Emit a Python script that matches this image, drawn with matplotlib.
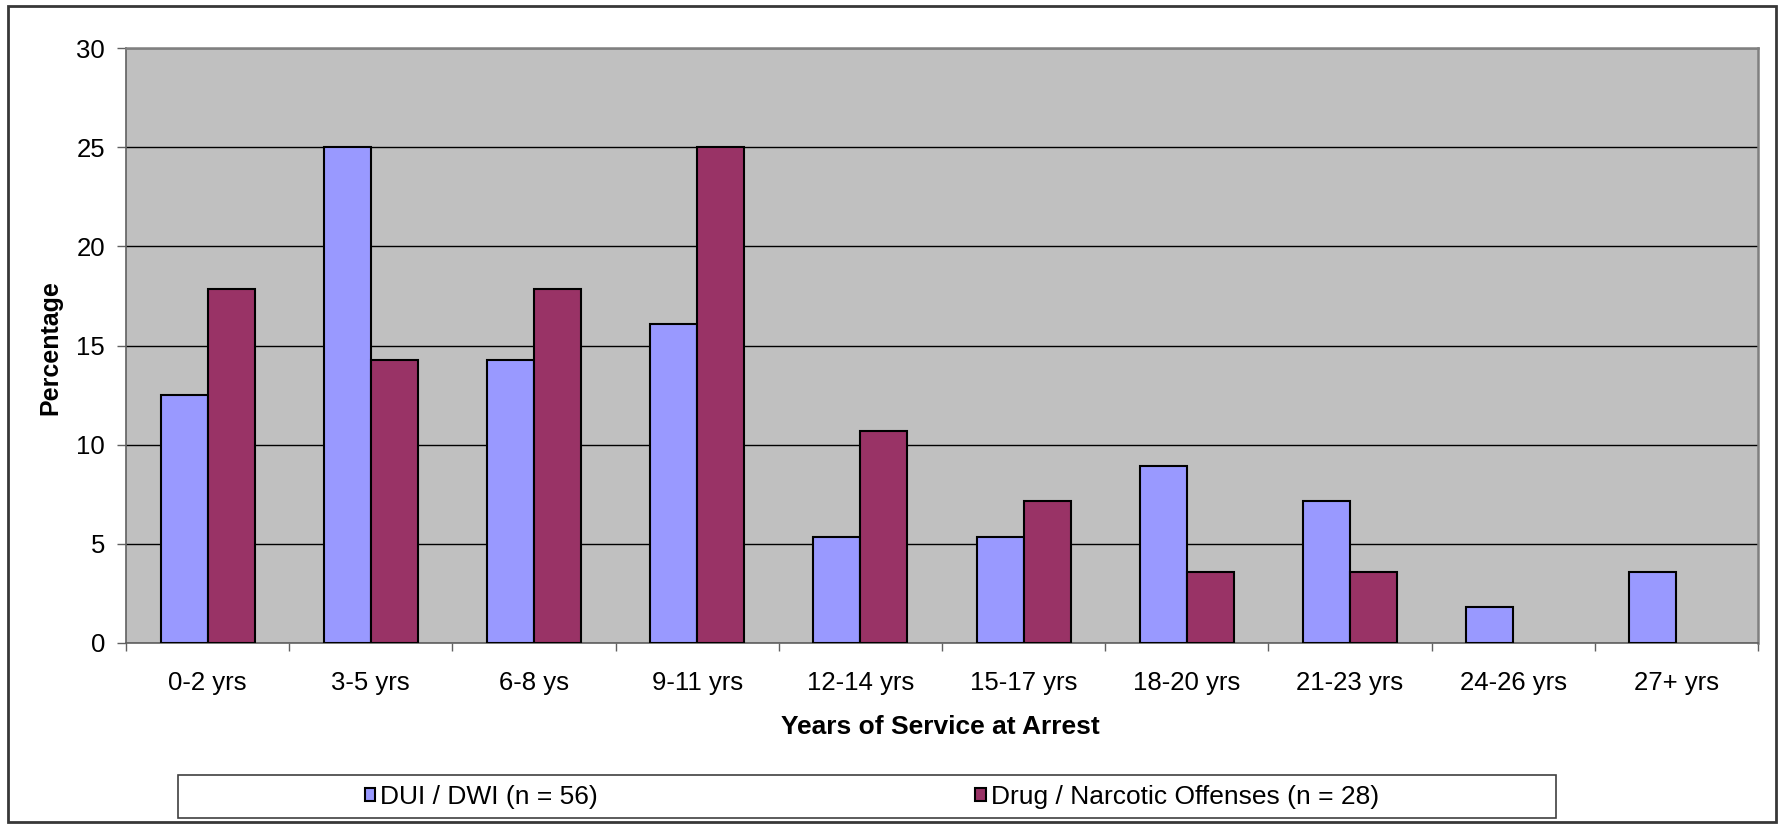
"""
Years of service at arrest, DUI vs drug offenses.
"""

import matplotlib.pyplot as plt
from matplotlib.patches import Rectangle
import numpy as np

categories = ["0-2 yrs", "3-5 yrs", "6-8 ys", "9-11 yrs", "12-14 yrs",
              "15-17 yrs", "18-20 yrs", "21-23 yrs", "24-26 yrs", "27+ yrs"]
dui_pct = [12.5, 25.0, 14.29, 16.07, 5.36, 5.36, 8.93, 7.14, 1.79, 3.57]
drug_pct = [17.86, 14.29, 17.86, 25.0, 10.71, 7.14, 3.57, 3.57, 0.0, 0.0]
dui_label = "DUI / DWI (n = 56)"
drug_label = "Drug / Narcotic Offenses (n = 28)"

plt.rcParams["font.family"] = ["Liberation Sans", "DejaVu Sans"]

W, H = 1781, 825
fig = plt.figure(figsize=(W / 100, H / 100), dpi=100)

# outer chart frame
fig.patches.append(Rectangle((8 / W, 1 - 822 / H), 1768 / W, 816 / H,
                             transform=fig.transFigure, fill=False,
                             edgecolor="#383838", linewidth=2))

ax = fig.add_axes([126 / W, 1 - 643 / H, 1632 / W, 595 / H])
ax.set_facecolor("#C0C0C0")

x = np.arange(len(categories))
width = 0.288

dui_idx = [i for i, v in enumerate(dui_pct) if v > 0]
drug_idx = [i for i, v in enumerate(drug_pct) if v > 0]

ax.bar(x[dui_idx] - width / 2, [dui_pct[i] for i in dui_idx], width,
       color="#9999FF", edgecolor="black", linewidth=1.5, zorder=3,
       label=dui_label)
ax.bar(x[drug_idx] + width / 2, [drug_pct[i] for i in drug_idx], width,
       color="#993366", edgecolor="black", linewidth=1.5, zorder=3,
       label=drug_label)

ax.set_xlim(-0.5, len(categories) - 0.5)
ax.set_ylim(0, 30)
ax.set_yticks([0, 5, 10, 15, 20, 25, 30])
ax.yaxis.grid(True, color="black", linewidth=1.0, zorder=1)
ax.set_axisbelow(True)

# ticks at category boundaries, labels at centres
ax.set_xticks(np.arange(len(categories) + 1) - 0.5)
ax.set_xticklabels([])
ax.set_xticks(x, minor=True)
ax.set_xticklabels(categories, minor=True)
ax.tick_params(axis="x", which="major", length=6, width=1, color="#606060",
               direction="out")
ax.tick_params(axis="x", which="minor", length=0, pad=20, labelsize=18.5)
ax.tick_params(axis="y", length=6.5, width=1, color="#606060",
               direction="out", pad=8.5, labelsize=18.5)

for side in ["top", "right"]:
    ax.spines[side].set_color("#808080")
    ax.spines[side].set_linewidth(1.8)
for side in ["left", "bottom"]:
    ax.spines[side].set_color("#606060")
    ax.spines[side].set_linewidth(1.2)

fig.text(50 / W, 1 - 348 / H, "Percentage", rotation=90, fontsize=18,
         fontweight="bold", ha="center", va="center")
fig.text(940 / W, 1 - 727 / H, "Years of Service at Arrest", fontsize=19,
         fontweight="bold", ha="center", va="center")

# legend box
fig.patches.append(Rectangle((178 / W, 1 - 818 / H), 1378 / W, 43 / H,
                             transform=fig.transFigure, facecolor="white",
                             edgecolor="#404040", linewidth=1.2))
handles, labels = ax.get_legend_handles_labels()
fig.legend(handles, labels, loc="center",
           bbox_to_anchor=(872 / W, 1 - 797 / H), ncol=2, frameon=False,
           fontsize=19, handlelength=0.4, handleheight=0.4,
           handletextpad=0.2, columnspacing=14.3)

fig.savefig("out.png", dpi=100)
